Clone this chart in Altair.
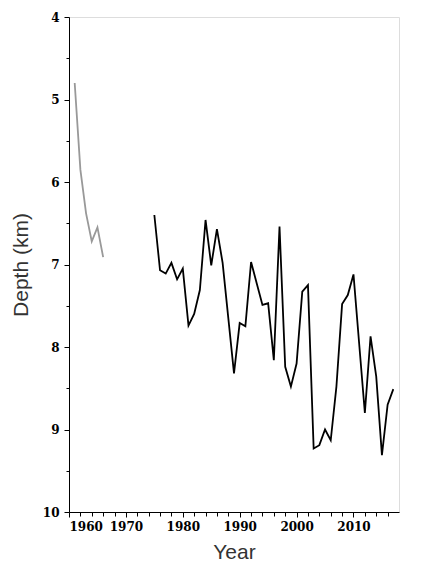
import altair as alt
import pandas as pd

years_early = [1961, 1962, 1963, 1964, 1965, 1966]
depth_early = [4.80, 5.85, 6.38, 6.72, 6.55, 6.91]

years_late = list(range(1975, 2018))
depth_late = [6.40, 7.07, 7.11, 6.98, 7.18, 7.05, 7.74, 7.60, 7.31, 6.46,
              7.01, 6.57, 6.98, 7.65, 8.32, 7.71, 7.75, 6.97, 7.23, 7.49,
              7.47, 8.16, 6.54, 8.24, 8.48, 8.20, 7.33, 7.25, 9.23, 9.19,
              9.00, 9.13, 8.48, 7.48, 7.37, 7.12, 7.96, 8.80, 7.87, 8.36,
              9.31, 8.70, 8.51]

x_ticks = list(range(1960, 2017, 2))
y_ticks = [4 + 0.5 * i for i in range(13)]

df = pd.concat([
    pd.DataFrame({"Year": years_early, "Depth": depth_early, "series": "early"}),
    pd.DataFrame({"Year": years_late, "Depth": depth_late, "series": "late"}),
])

label_font = "DejaVu Serif"

x_axis = alt.Axis(
    values=x_ticks,
    labelExpr="datum.value % 10 === 0 ? format(datum.value, 'd') : ''",
    grid=False,
    domainColor="black",
    tickColor="black",
    tickSize={"condition": {"test": "datum.value % 10 === 0", "value": 5}, "value": 4},
    labelFont=label_font,
    labelFontSize=12,
    labelFontWeight="bold",
    labelColor="black",
    labelPadding=4,
    title="Year",
    titleFont="Liberation Sans",
    titleFontSize=21,
    titleFontWeight="normal",
    titleColor="#333333",
    titlePadding=9,
)

y_axis = alt.Axis(
    values=y_ticks,
    labelExpr="datum.value % 1 === 0 ? format(datum.value, 'd') : ''",
    grid=False,
    domainColor="black",
    tickColor="black",
    tickSize={"condition": {"test": "datum.value % 1 === 0", "value": 5}, "value": 3},
    labelFont=label_font,
    labelFontSize=12,
    labelFontWeight="bold",
    labelColor="black",
    labelPadding=5,
    title="Depth (km)",
    titleFont="Liberation Sans",
    titleFontSize=21,
    titleFontWeight="normal",
    titleColor="#333333",
    titlePadding=11,
)

chart = alt.Chart(df).mark_line(strokeWidth=1.8).encode(
    x=alt.X("Year:Q", scale=alt.Scale(domain=[1960, 2018], nice=False, zero=False), axis=x_axis),
    y=alt.Y("Depth:Q", scale=alt.Scale(domain=[4, 10], reverse=True, nice=False, zero=False), axis=y_axis),
    color=alt.Color("series:N", scale=alt.Scale(domain=["early", "late"], range=["#999999", "#000000"]), legend=None),
    detail="series:N",
).properties(
    width=330,
    height=495,
    padding={"left": 2, "top": 3, "right": 5, "bottom": 5},
).configure_view(stroke=None).configure(background="white")

chart.save("out.html", embed_options={"renderer": "svg", "actions": False})
